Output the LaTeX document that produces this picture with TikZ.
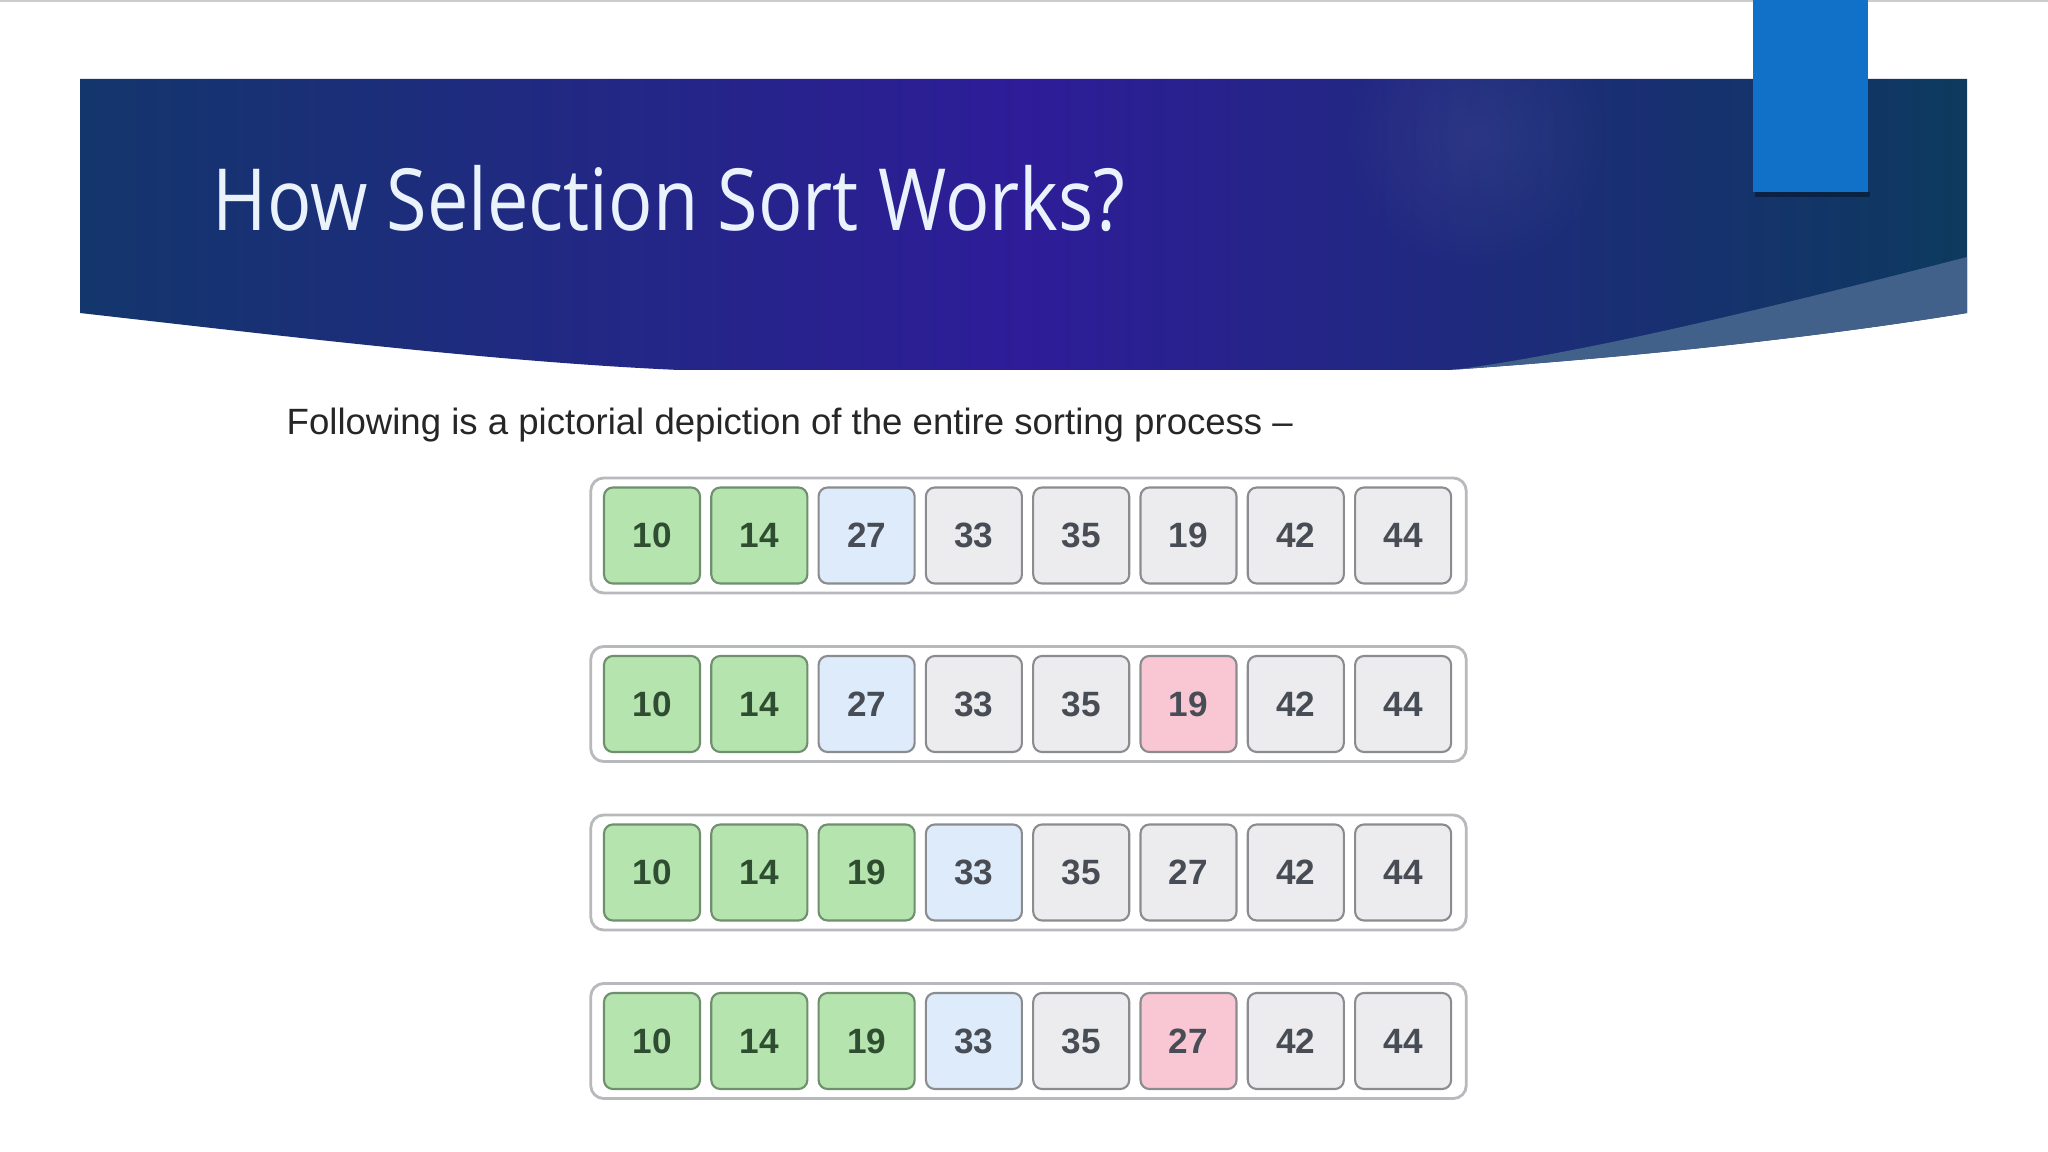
\documentclass[tikz,border=0pt]{standalone}
\usepackage{fontspec}
\setmainfont{Liberation Sans}
\newfontfamily\titlefont[FakeStretch=0.86]{Open Sans}
\usetikzlibrary{fadings}

\definecolor{bandleft}{HTML}{13366C}
\definecolor{bandmid}{HTML}{2E1C98}
\definecolor{bandright}{HTML}{0D3A5E}
\definecolor{wedge}{HTML}{41618A}
\definecolor{topbar}{HTML}{1170C8}
\definecolor{titletext}{HTML}{EAF2FC}
\definecolor{cellline}{HTML}{8A8C90}
\definecolor{celltext}{HTML}{474C55}
\definecolor{donefill}{HTML}{B5E4AF}
\definecolor{doneline}{HTML}{6F8F6E}
\definecolor{donetext}{HTML}{2F4D30}
\definecolor{curfill}{HTML}{DDEBFA}
\definecolor{restfill}{HTML}{ECECEE}
\definecolor{minfill}{HTML}{F9C7D3}
\definecolor{frameline}{HTML}{B8B9BC}

\tikzfading[name=glow, inner color=transparent!0, outer color=transparent!100]

\begin{document}
\begin{tikzpicture}[x=0.01cm, y=-0.01cm,
    cell/.style={draw=cellline, line width=0.6pt, rounded corners=0.09cm, minimum size=0.96cm, inner sep=0pt, text=celltext, font=\fontsize{10}{12}\selectfont\bfseries},
    done/.style={cell, fill=donefill, draw=doneline, text=donetext},
    cur/.style={cell, fill=curfill},
    rest/.style={cell, fill=restfill},
    minval/.style={cell, fill=minfill},
    rowbox/.style={draw=frameline, line width=0.8pt, rounded corners=0.13cm, minimum width=8.75cm, minimum height=1.15cm, inner sep=0pt, fill=white}]

    \useasboundingbox (0,0) rectangle (2048,1152);
    \fill[white] (0,0) rectangle (2048,1152);
    \draw[black!20, line width=0.6pt] (0,1) -- (2048,1);

    % header band
    \shade[left color=bandleft, right color=bandright, middle color=bandmid]
        (80,79) -- (1967,79) -- (1967,313)
        .. controls (1800,340) and (1620,358) .. (1449,370) -- (679,370)
        .. controls (500,362) and (300,338) .. (80,313) -- cycle;
    \fill[white, opacity=0.06, path fading=glow] (1476,137) circle (140);
    \fill[wedge] (1460,369) .. controls (1600,350) and (1800,300) .. (1967,257)
        -- (1967,313) .. controls (1800,340) and (1620,358) .. (1449,370) -- cycle;
    \fill[black, opacity=0.35] (1755,192) rectangle (1870,197);
    \fill[topbar] (1753,0) rectangle (1868,192);

    \node[anchor=base west, inner sep=0pt, text=titletext, font=\titlefont\fontsize{24.4}{28}\selectfont] (ttl) at (212,231) {How Selection Sort Works?};
    \node[anchor=base west, inner sep=0pt, text=black!85, font=\fontsize{10.4}{12}\selectfont] (sub) at (286,435) {Following is a pictorial depiction of the entire sorting process –};

    % rows
    \node[rowbox] (fa) at (1028.5,535.5) {};
    \node[rowbox] (fb) at (1028.5,704) {};
    \node[rowbox] (fc) at (1028.5,872.5) {};
    \node[rowbox] (fd) at (1028.5,1041) {};

    \node[done] (a1) at (652,535.5) {10};
    \node[done] (a2) at (759.3,535.5) {14};
    \node[cur] (a3) at (866.6,535.5) {27};
    \node[rest] (a4) at (973.9,535.5) {33};
    \node[rest] (a5) at (1081.2,535.5) {35};
    \node[rest] (a6) at (1188.5,535.5) {19};
    \node[rest] (a7) at (1295.8,535.5) {42};
    \node[rest] (a8) at (1403.1,535.5) {44};

    \node[done] (b1) at (652,704) {10};
    \node[done] (b2) at (759.3,704) {14};
    \node[cur] (b3) at (866.6,704) {27};
    \node[rest] (b4) at (973.9,704) {33};
    \node[rest] (b5) at (1081.2,704) {35};
    \node[minval] (b6) at (1188.5,704) {19};
    \node[rest] (b7) at (1295.8,704) {42};
    \node[rest] (b8) at (1403.1,704) {44};

    \node[done] (c1) at (652,872.5) {10};
    \node[done] (c2) at (759.3,872.5) {14};
    \node[done] (c3) at (866.6,872.5) {19};
    \node[cur] (c4) at (973.9,872.5) {33};
    \node[rest] (c5) at (1081.2,872.5) {35};
    \node[rest] (c6) at (1188.5,872.5) {27};
    \node[rest] (c7) at (1295.8,872.5) {42};
    \node[rest] (c8) at (1403.1,872.5) {44};

    \node[done] (d1) at (652,1041) {10};
    \node[done] (d2) at (759.3,1041) {14};
    \node[done] (d3) at (866.6,1041) {19};
    \node[cur] (d4) at (973.9,1041) {33};
    \node[rest] (d5) at (1081.2,1041) {35};
    \node[minval] (d6) at (1188.5,1041) {27};
    \node[rest] (d7) at (1295.8,1041) {42};
    \node[rest] (d8) at (1403.1,1041) {44};
\end{tikzpicture}
\end{document}
